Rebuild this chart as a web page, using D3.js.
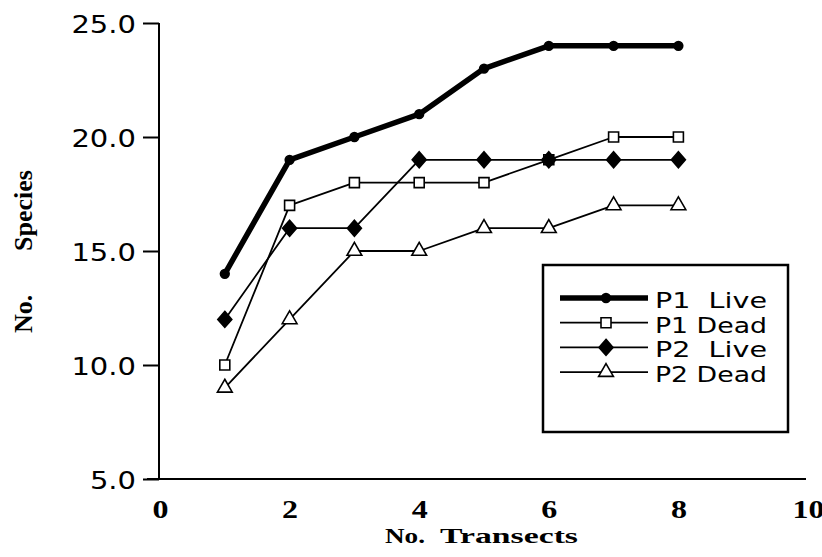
<!DOCTYPE html>
<meta charset="utf-8">
<style>
    body { margin: 0; background: #fff; }
    .ytick text { font-family: "DejaVu Sans", Verdana, sans-serif; font-size: 25px; }
    .xtick text { font-family: "Liberation Serif", "Times New Roman", serif; font-weight: bold; font-size: 25px; }
    .title { font-family: "Liberation Serif", "Times New Roman", serif; font-weight: bold; font-size: 21px; }
    .ytitle { font-family: "Liberation Serif", "Times New Roman", serif; font-weight: bold; font-size: 26px; }
    .legend text { font-family: "DejaVu Sans", Verdana, sans-serif; font-size: 21px; }
</style>
<svg width="822" height="557"></svg>
<script src="https://d3js.org/d3.v7.min.js"></script>
<script>
    var transects = [1, 2, 3, 4, 5, 6, 7, 8];
    var p1Live = [14, 19, 20, 21, 23, 24, 24, 24];
    var p1Dead = [10, 17, 18, 18, 18, 19, 20, 20];
    var p2Live = [12, 16, 16, 19, 19, 19, 19, 19];
    var p2Dead = [9, 12, 15, 15, 16, 16, 17, 17];
    var seriesNames = ["P1  Live", "P1 Dead", "P2  Live", "P2 Dead"];
    var yTicks = [5, 10, 15, 20, 25];
    var xTicks = [0, 2, 4, 6, 8, 10];

    var svg = d3.select("svg");

    var x = d3.scaleLinear().domain([0, 10]).range([160, 808]);
    var y = d3.scaleLinear().domain([5, 25]).range([479, 23]);

    var series = [
        { name: seriesNames[0], values: p1Live, width: 5.5, marker: "circle" },
        { name: seriesNames[1], values: p1Dead, width: 1.8, marker: "square" },
        { name: seriesNames[2], values: p2Live, width: 1.8, marker: "diamond" },
        { name: seriesNames[3], values: p2Dead, width: 1.8, marker: "triangle" }
    ];

    // axes
    var yAxis = svg.append("g")
        .attr("class", "ytick")
        .attr("transform", "translate(159,0)")
        .call(d3.axisLeft(y).tickValues(yTicks).tickFormat(d3.format(".1f")).tickSize(16).tickPadding(7));
    yAxis.select(".domain").attr("stroke", "#000").attr("stroke-width", 2).attr("d", "M0," + y(25) + "V" + y(5));
    yAxis.selectAll(".tick line").attr("stroke-width", 2);
    yAxis.selectAll(".tick text")
        .attr("dy", "0.36em")
        .attr("textLength", function() { return this.getComputedTextLength() * 1.16; })
        .attr("lengthAdjust", "spacingAndGlyphs");

    var xAxis = svg.append("g")
        .attr("class", "xtick")
        .attr("transform", "translate(0," + y(5) + ")")
        .call(d3.axisBottom(x).tickValues(xTicks).tickSize(0).tickPadding(0));
    xAxis.select(".domain").attr("stroke", "#000").attr("stroke-width", 2).attr("d", "M147,0H806");
    xAxis.selectAll(".tick text")
        .attr("y", 39).attr("dy", 0)
        .attr("textLength", function(d) { return String(d).length * 16; })
        .attr("lengthAdjust", "spacingAndGlyphs");

    svg.append("text").attr("class", "title")
        .attr("x", 385).attr("y", 543)
        .attr("textLength", 40).attr("lengthAdjust", "spacingAndGlyphs")
        .text("No.");
    svg.append("text").attr("class", "title")
        .attr("x", 440).attr("y", 543)
        .attr("textLength", 138).attr("lengthAdjust", "spacingAndGlyphs")
        .text("Transects");

    svg.append("text").attr("class", "ytitle")
        .attr("transform", "translate(32,333) rotate(-90)")
        .text("No.");
    svg.append("text").attr("class", "ytitle")
        .attr("transform", "translate(32,251) rotate(-90)")
        .text("Species");

    var symbols = {
        circle: d3.symbol().type(d3.symbolCircle).size(60),
        square: d3.symbol().type(d3.symbolSquare).size(100),
        triangle: d3.symbol().type(d3.symbolTriangle).size(95)
    };
    function drawMarker(g, s, cx, cy) {
        var hollow = s.marker === "square" || s.marker === "triangle";
        var d = s.marker === "diamond" ? "M0,-8L7,0L0,8L-7,0Z" : symbols[s.marker]();
        g.append("path")
            .attr("d", d)
            .attr("transform", "translate(" + cx + "," + cy + ")")
            .attr("fill", hollow ? "#fff" : "#000")
            .attr("stroke", "#000")
            .attr("stroke-width", 1.6);
    }

    var line = d3.line()
        .x(function(d, i) { return x(transects[i]); })
        .y(function(d) { return y(d); });

    series.forEach(function(s) {
        var g = svg.append("g");
        g.append("path")
            .attr("d", line(s.values))
            .attr("fill", "none")
            .attr("stroke", "#000")
            .attr("stroke-width", s.width)
            .attr("stroke-linejoin", "round");
        s.values.forEach(function(v, i) {
            drawMarker(g, s, x(transects[i]), y(v));
        });
    });

    // legend
    var legend = svg.append("g").attr("class", "legend");
    legend.append("rect")
        .attr("x", 543).attr("y", 265).attr("width", 245).attr("height", 167)
        .attr("fill", "#fff").attr("stroke", "#000").attr("stroke-width", 2.5);
    series.forEach(function(s, i) {
        var ly = 298 + i * 24.7;
        legend.append("line")
            .attr("x1", 560).attr("x2", 648).attr("y1", ly).attr("y2", ly)
            .attr("stroke", "#000").attr("stroke-width", s.width);
        drawMarker(legend, s, 606, ly);
        legend.append("text")
            .attr("x", 655).attr("y", ly + 10)
            .attr("xml:space", "preserve")
            .attr("textLength", 112).attr("lengthAdjust", "spacingAndGlyphs")
            .text(s.name);
    });
</script>
